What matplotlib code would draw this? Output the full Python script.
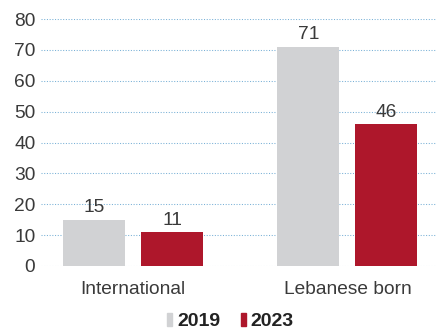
import matplotlib.pyplot as plt
from matplotlib.patches import Rectangle

plt.rcParams["font.family"] = ["Liberation Sans", "DejaVu Sans"]

categories = ["International", "Lebanese born"]
years = ["2019", "2023"]
values_2019 = [15, 71]
values_2023 = [11, 46]
colors = ["#d1d2d4", "#ae172b"]
y_ticks = [0, 10, 20, 30, 40, 50, 60, 70, 80]

fig = plt.figure(figsize=(4.4, 3.29), dpi=100)
ax = fig.add_axes([0.093, 0.1915, 0.898, 0.7505])

width = 0.289
offset = 0.182
x = range(len(categories))
for vals, off, col in [(values_2019, -offset, colors[0]), (values_2023, offset, colors[1])]:
    xs = [i + off for i in x]
    bars = ax.bar(xs, vals, width=width, color=col, zorder=3)
    for b, v in zip(bars, vals):
        ax.text(b.get_x() + b.get_width() / 2, v + 2.4, str(v), ha="center", va="baseline",
                fontsize=13.8, color="#3a3a3a", zorder=4)

ax.set_xlim(-0.429, 1.413)
ax.set_ylim(0, 80)
ax.set_yticks(y_ticks)
ax.set_yticklabels([str(t) for t in y_ticks], fontsize=13.8, color="#3a3a3a")
ax.set_xticks(list(x))
ax.set_xticklabels(categories, fontsize=13.8, color="#3a3a3a")
ax.tick_params(axis="y", length=0, pad=4)
ax.tick_params(axis="x", length=0, pad=11)
ax.grid(axis="y", linestyle=(0, (1, 1.6)), color="#78b0d6", linewidth=0.75, zorder=0)
for s in ax.spines.values():
    s.set_visible(False)

# legend drawn by hand: narrow swatches with bold year labels
for xpos, label, col in [(0.380, years[0], colors[0]), (0.548, years[1], colors[1])]:
    fig.patches.append(Rectangle((xpos, 0.009), 0.0114, 0.0395, color=col,
                                 transform=fig.transFigure, figure=fig))
    fig.text(xpos + 0.022, 0.009, label, fontsize=14, fontweight="bold",
             color="#222222", va="baseline", ha="left")

fig.savefig("out.png", dpi=100)
